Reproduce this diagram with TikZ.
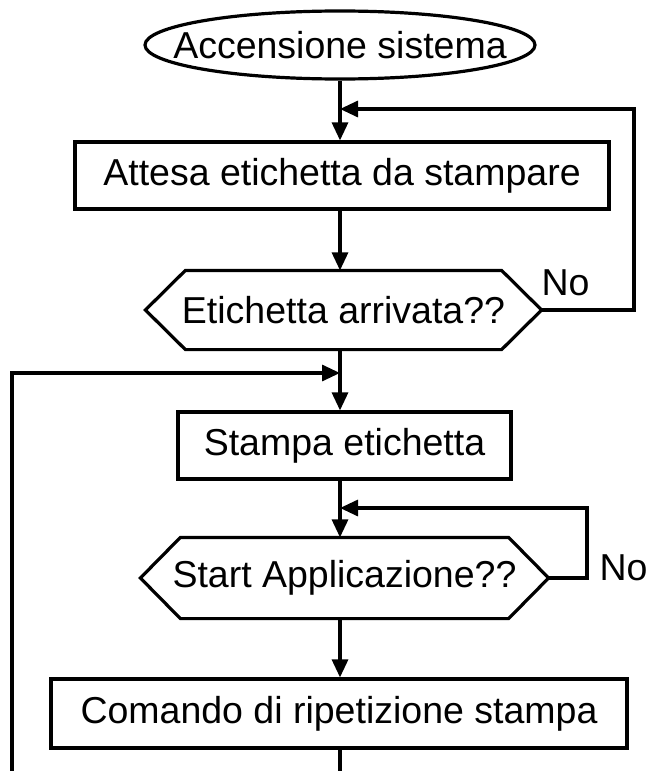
\documentclass[tikz,border=0pt]{standalone}
\usepackage{fontspec}
\setmainfont{Liberation Sans}
\usetikzlibrary{positioning, shapes.geometric, arrows.meta}

% hexagonal outline round a decision node
\newcommand{\hexoutline}[1]{%
  \draw (#1.west) -- ([xshift=40pt]#1.north west) -- ([xshift=-40pt]#1.north east) -- (#1.east)
    -- ([xshift=-40pt]#1.south east) -- ([xshift=40pt]#1.south west) -- cycle;}

\begin{document}
\begin{tikzpicture}[
    x=1pt, y=-1pt,
    line width=3.2pt,
    font=\fontsize{37.5}{45}\selectfont,
    start_block/.style={ellipse, draw, inner xsep=-30pt, inner ysep=0pt, minimum width=390pt, minimum height=68pt},
    process_block/.style={rectangle, draw, inner sep=0pt, minimum height=67pt},
    decision_block/.style={rectangle, inner sep=0pt, minimum height=76pt},
    flow_arrow/.style={-{Triangle[length=18pt, width=16pt]}},
    no_label/.style={inner sep=0pt, anchor=base west}
]

\useasboundingbox (0,0) rectangle (647,771);

% Main column
\coordinate (col) at (340,0);

\node[start_block] (start) at (340,45) {Accensione sistema};
\node[process_block, minimum width=534pt] (wait) at (342,175.5) {Attesa etichetta da stampare};
\node[decision_block, minimum width=393pt] (arrived) at (343.5,310) {Etichetta arrivata??};
\node[process_block, minimum width=333pt] (print) at (344.5,445.5) {Stampa etichetta};
\node[decision_block, minimum width=405pt, minimum height=78pt] (startapp) at (344.5,578) {Start Applicazione??};
\node[process_block, minimum width=576pt, minimum height=69pt] (repeat) at (339,713.5) {Comando di ripetizione stampa};
\hexoutline{arrived}
\hexoutline{startapp}

% Answers
\node[no_label] (no1) at (540,295) {No};
\node[no_label] (no2) at (598,580) {No};

% Loop joints
\coordinate (in1) at (340,109);
\coordinate (r1) at (634,109);
\coordinate (in2) at (340,373);
\coordinate (l2) at (12,771);
\coordinate (in3) at (340,508);
\coordinate (r3) at (587,508);
\coordinate (bot) at (340,771);

% Arrows
\draw[flow_arrow] (start.south -| col) -- (wait.north -| col);
\draw[flow_arrow] (wait.south -| col) -- (arrived.north -| col);
\draw (arrived.south -| col) -- (in2);
\draw[flow_arrow] (in2) -- (print.north -| col);
\draw[flow_arrow] (print.south -| col) -- (startapp.north -| col);
\draw[flow_arrow] (startapp.south -| col) -- (repeat.north -| col);
\draw (repeat.south -| col) -- (bot);

% Loops back
\draw[flow_arrow] (arrived.east) -| (r1) -- (in1);
\draw[flow_arrow] (startapp.east) -| (r3) -- (in3);
\draw[flow_arrow] (l2) |- (in2);

\end{tikzpicture}
\end{document}
